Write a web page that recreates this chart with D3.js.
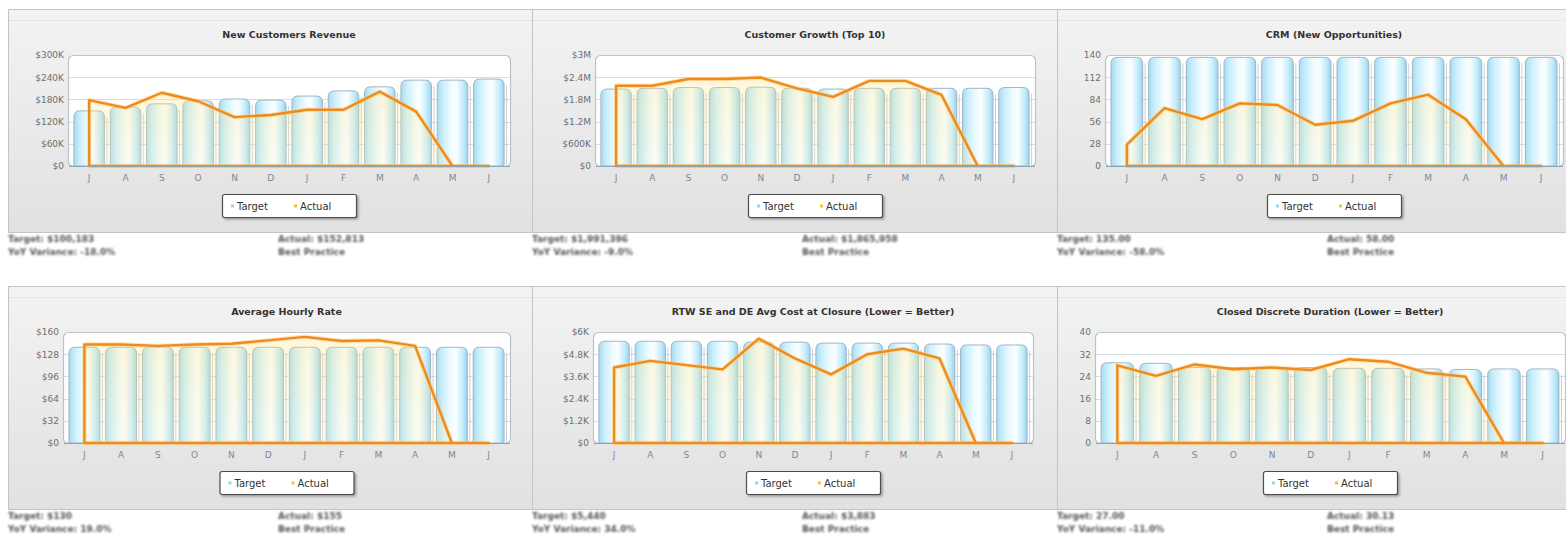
<!DOCTYPE html>
<html>
<head>
<meta charset="utf-8">
<script src="https://cdn.jsdelivr.net/npm/d3@7"></script>
<style>
  html, body { margin: 0; padding: 0; background: #ffffff; }
  svg { display: block; }
  .info { filter: blur(1.1px); }
</style>
</head>
<body>
<svg id="chart" width="1566" height="536"></svg>
<script>
// ---------- DATA ----------
const months = ["J", "A", "S", "O", "N", "D", "J", "F", "M", "A", "M", "J"];
const seriesNames = ["Target", "Actual"];

const titles = [
  "New Customers Revenue",
  "Customer Growth (Top 10)",
  "CRM (New Opportunities)",
  "Average Hourly Rate",
  "RTW SE and DE Avg Cost at Closure  (Lower = Better)",
  "Closed Discrete Duration  (Lower = Better)"
];

const revenueTarget = [149000, 159000, 168000, 176000, 181000, 178000, 189000, 203000, 214000, 232000, 232000, 235000];
const revenueActual = [178000, 157000, 198000, 175000, 132000, 138000, 152000, 152000, 201000, 147000, 0, 0];
const revenueTicks = [0, 60000, 120000, 180000, 240000, 300000];
const revenueTickLabels = ["$0", "$60K", "$120K", "$180K", "$240K", "$300K"];

const growthTarget = [2080000, 2100000, 2120000, 2120000, 2130000, 2100000, 2080000, 2100000, 2100000, 2100000, 2100000, 2120000];
const growthActual = [2170000, 2170000, 2350000, 2350000, 2390000, 2100000, 1870000, 2300000, 2300000, 1920000, 0, 0];
const growthTicks = [0, 600000, 1200000, 1800000, 2400000, 3000000];
const growthTickLabels = ["$0", "$600K", "$1.2M", "$1.8M", "$2.4M", "$3M"];

const crmTarget = [137, 137, 137, 137, 137, 137, 137, 137, 137, 137, 137, 137];
const crmActual = [27, 73, 59, 79, 77, 52, 57, 79, 90, 59, 0, 0];
const crmTicks = [0, 28, 56, 84, 112, 140];
const crmTickLabels = ["0", "28", "56", "84", "112", "140"];

const rateTarget = [138, 138, 138, 138, 138, 138, 138, 138, 138, 138, 138, 138];
const rateActual = [142, 142, 140, 142, 143, 148, 153, 147, 148, 140, 0, 0];
const rateTicks = [0, 32, 64, 96, 128, 160];
const rateTickLabels = ["$0", "$32", "$64", "$96", "$128", "$160"];

const costTarget = [5500, 5500, 5500, 5500, 5450, 5450, 5400, 5400, 5400, 5350, 5300, 5300];
const costActual = [4080, 4440, 4210, 3980, 5640, 4570, 3710, 4800, 5100, 4570, 0, 0];
const costTicks = [0, 1200, 2400, 3600, 4800, 6000];
const costTickLabels = ["$0", "$1.2K", "$2.4K", "$3.6K", "$4.8K", "$6K"];

const durationTarget = [28.9, 28.7, 27.2, 27.2, 27.2, 27.2, 26.9, 26.9, 26.7, 26.5, 26.7, 26.7];
const durationActual = [28, 24.2, 28.3, 26.6, 27.2, 26.3, 30.2, 29.3, 25.3, 23.9, 0, 0];
const durationTicks = [0, 8, 16, 24, 32, 40];
const durationTickLabels = ["0", "8", "16", "24", "32", "40"];

const infoTarget = ["Target: $100,183", "Target: $1,991,396", "Target: 135.00", "Target: $130", "Target: $5,440", "Target: 27.00"];
const infoActual = ["Actual: $152,813", "Actual: $1,865,958", "Actual: 58.00", "Actual: $155", "Actual: $3,883", "Actual: 30.13"];
const infoVariance = ["YoY Variance: -18.0%", "YoY Variance: -9.0%", "YoY Variance: -58.0%", "YoY Variance: 19.0%", "YoY Variance: 34.0%", "YoY Variance: -11.0%"];
const infoBest = ["Best Practice", "Best Practice", "Best Practice", "Best Practice", "Best Practice", "Best Practice"];

// ---------- LAYOUT ----------
const layout = [
  { px: 8,    py: 9,   pw: 524, ph: 223, left: 68,   right: 510,  top: 55,  bottom: 166 },
  { px: 532,  py: 9,   pw: 525, ph: 223, left: 595,  right: 1035, top: 55,  bottom: 166 },
  { px: 1057, py: 9,   pw: 515, ph: 223, left: 1105, right: 1563, top: 55,  bottom: 166 },
  { px: 8,    py: 286, pw: 524, ph: 223, left: 63,   right: 510,  top: 332, bottom: 443 },
  { px: 532,  py: 286, pw: 525, ph: 223, left: 593,  right: 1033, top: 332, bottom: 443 },
  { px: 1057, py: 286, pw: 515, ph: 223, left: 1095, right: 1565, top: 332, bottom: 443 }
];

const charts = [
  { target: revenueTarget, actual: revenueActual, ticks: revenueTicks, labels: revenueTickLabels },
  { target: growthTarget, actual: growthActual, ticks: growthTicks, labels: growthTickLabels },
  { target: crmTarget, actual: crmActual, ticks: crmTicks, labels: crmTickLabels },
  { target: rateTarget, actual: rateActual, ticks: rateTicks, labels: rateTickLabels },
  { target: costTarget, actual: costActual, ticks: costTicks, labels: costTickLabels },
  { target: durationTarget, actual: durationActual, ticks: durationTicks, labels: durationTickLabels }
];

const svg = d3.select("#chart");
const defs = svg.append("defs");

// panel gradient
const pg = defs.append("linearGradient").attr("id", "panelGrad").attr("x1", 0).attr("y1", 0).attr("x2", 0).attr("y2", 1);
pg.append("stop").attr("offset", "0%").attr("stop-color", "#f3f3f3");
pg.append("stop").attr("offset", "100%").attr("stop-color", "#e1e1e1");

// bar gradient (cylinder)
const bg = defs.append("linearGradient").attr("id", "barGrad").attr("x1", 0).attr("y1", 0).attr("x2", 1).attr("y2", 0);
[["0%", "#a6dbf1"], ["18%", "#c8eefc"], ["45%", "#effbff"], ["62%", "#fbfeff"], ["85%", "#c4ecfb"], ["100%", "#9cd2eb"]]
  .forEach(([o, c]) => bg.append("stop").attr("offset", o).attr("stop-color", c));

// area gradient
const ag = defs.append("linearGradient").attr("id", "areaGrad").attr("x1", 0).attr("y1", 0).attr("x2", 0).attr("y2", 1);
ag.append("stop").attr("offset", "0%").attr("stop-color", "#ffe68a").attr("stop-opacity", 0.3);
ag.append("stop").attr("offset", "100%").attr("stop-color", "#fff4c8").attr("stop-opacity", 0.24);

// shadow filter
const sf = defs.append("filter").attr("id", "shadow").attr("x", "-10%").attr("y", "-20%").attr("width", "130%").attr("height", "160%");
sf.append("feDropShadow").attr("dx", 1.5).attr("dy", 1.5).attr("stdDeviation", 1.2).attr("flood-color", "#000").attr("flood-opacity", 0.35);

function barPath(x, y, w, h, r) {
  r = Math.min(r, h);
  return `M${x},${y + h}V${y + r}Q${x},${y} ${x + r},${y}H${x + w - r}Q${x + w},${y} ${x + w},${y + r}V${y + h}Z`;
}

charts.forEach((c, i) => {
  const L = layout[i];
  const g = svg.append("g");

  // panel
  g.append("rect").attr("x", L.px + 0.5).attr("y", L.py + 0.5).attr("width", L.pw).attr("height", L.ph)
    .attr("fill", "url(#panelGrad)").attr("stroke", "#c4c4c4");
  g.append("line").attr("x1", L.px + 1).attr("x2", L.px + L.pw).attr("y1", L.py + 11.5).attr("y2", L.py + 11.5)
    .attr("stroke", "#e6e6e6");

  // title
  g.append("text").attr("x", (L.left + L.right) / 2).attr("y", L.top - 17)
    .attr("text-anchor", "middle").attr("font-family", "DejaVu Sans, Verdana, sans-serif")
    .attr("font-size", 9.5).attr("font-weight", "bold").attr("fill", "#333").text(titles[i]);

  const yMax = c.ticks[c.ticks.length - 1];
  const y = d3.scaleLinear().domain([0, yMax]).range([L.bottom, L.top]);
  const x = d3.scaleBand().domain(d3.range(months.length)).range([L.left + 3, L.right - 3]).paddingInner(0).paddingOuter(0);
  const cx = d => x(d) + x.bandwidth() / 2;

  // plot background
  g.append("rect").attr("x", L.left + 0.5).attr("y", L.top + 0.5).attr("width", L.right - L.left).attr("height", L.bottom - L.top)
    .attr("rx", 5).attr("fill", "#ffffff").attr("stroke", "#b9c3cb").attr("stroke-width", 1.2);

  // grid lines
  g.append("g").selectAll("line").data(c.ticks.slice(1, -1)).join("line")
    .attr("x1", L.left + 1).attr("x2", L.right).attr("y1", d => Math.round(y(d)) + 0.5).attr("y2", d => Math.round(y(d)) + 0.5)
    .attr("stroke", "#d6dde3");

  // y axis
  const yAxis = d3.axisLeft(y).tickValues(c.ticks).tickFormat((d, k) => c.labels[k]).tickSize(0).tickPadding(4);
  const ya = g.append("g").attr("transform", `translate(${L.left},0)`).call(yAxis);
  ya.select(".domain").remove();
  ya.selectAll("text").attr("font-family", "DejaVu Sans, Verdana, sans-serif").attr("font-size", 9).attr("fill", "#6f6f6f");

  // target bars
  const bw = x.bandwidth() * 0.84;
  g.append("g").selectAll("path").data(c.target).join("path")
    .attr("d", (d, k) => barPath(cx(k) - bw / 2, y(d), bw, y(0) - y(d), 6))
    .attr("fill", "url(#barGrad)").attr("stroke", "#98aebb").attr("stroke-width", 0.9);
  g.append("g").selectAll("line").data(c.target).join("line")
    .attr("x1", (d, k) => cx(k) + bw / 2 + 2.5).attr("x2", (d, k) => cx(k) + bw / 2 + 2.5)
    .attr("y1", d => y(d) + 6).attr("y2", y(0))
    .attr("stroke", "#b9c4cc").attr("stroke-width", 0.8);

  // actual area
  const area = d3.area().x((d, k) => cx(k)).y0(y(0)).y1(d => y(d));
  g.append("path").datum(c.actual).attr("d", area)
    .attr("fill", "url(#areaGrad)").attr("stroke", "#ffd07a").attr("stroke-width", 4.5).attr("stroke-opacity", 0.5)
    .attr("stroke-linejoin", "round");
  g.append("path").datum(c.actual).attr("d", area)
    .attr("fill", "none").attr("stroke", "#ef8a1c").attr("stroke-width", 2.4).attr("stroke-linejoin", "round");

  // baseline
  g.append("line").attr("x1", L.left + 1).attr("x2", L.right).attr("y1", y(0) + 0.5).attr("y2", y(0) + 0.5)
    .attr("stroke", "#8fa2b0").attr("stroke-width", 1);

  // x axis
  const xAxis = d3.axisBottom(x).tickFormat(k => months[k]).tickSize(0).tickPadding(9);
  const xa = g.append("g").attr("transform", `translate(0,${L.bottom})`).call(xAxis);
  xa.select(".domain").remove();
  xa.selectAll("text").attr("font-family", "DejaVu Sans, Verdana, sans-serif").attr("font-size", 9).attr("fill", "#7b8894");

  // legend
  const lw = 134, lh = 23;
  const lx = (L.left + L.right) / 2 - lw / 2, ly = L.bottom + 28;
  const lg = g.append("g").attr("transform", `translate(${lx},${ly})`);
  lg.append("rect").attr("x", 0.5).attr("y", 0.5).attr("width", lw).attr("height", lh).attr("rx", 2)
    .attr("fill", "#ffffff").attr("stroke", "#4d4d4d").attr("stroke-width", 1.2).attr("filter", "url(#shadow)");
  const legendColors = ["#9ed4ec", "#f2c23a"];
  const legendX = [9, 72];
  seriesNames.forEach((n, k) => {
    lg.append("rect").attr("x", legendX[k]).attr("y", lh / 2 - 1).attr("width", 3).attr("height", 3).attr("fill", legendColors[k]);
    lg.append("text").attr("x", legendX[k] + 6).attr("y", lh / 2 + 4)
      .attr("font-family", "DejaVu Sans, Verdana, sans-serif").attr("font-size", 10).attr("fill", "#333").text(n);
  });

  // info text (blurred in reference)
  const iy = L.py + L.ph + 10;
  const info = g.append("g").attr("class", "info").attr("font-family", "DejaVu Sans, Verdana, sans-serif")
    .attr("font-size", 9).attr("font-weight", "bold").attr("fill", "#555");
  info.append("text").attr("x", L.px).attr("y", iy).text(infoTarget[i]);
  info.append("text").attr("x", L.px).attr("y", iy + 13).text(infoVariance[i]);
  info.append("text").attr("x", L.px + 270).attr("y", iy).text(infoActual[i]);
  info.append("text").attr("x", L.px + 270).attr("y", iy + 13).text(infoBest[i]);
});
</script>
</body>
</html>
